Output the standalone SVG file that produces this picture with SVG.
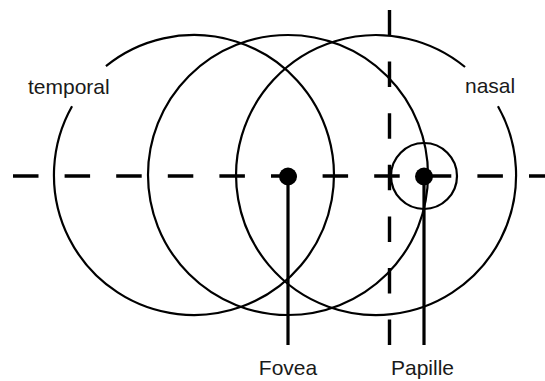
<svg xmlns="http://www.w3.org/2000/svg" width="545" height="381" viewBox="0 0 545 381">
<style>
.c{fill:none;stroke:#000;stroke-width:2.2}
.d{fill:none;stroke:#000;stroke-width:3.4;stroke-dasharray:25.5 26.1}
.l{fill:none;stroke:#000;stroke-width:3.2}
.t{font-family:"Liberation Sans",Arial,sans-serif;font-size:21px;fill:#1a1a1a}
</style>
<rect width="545" height="381" fill="#fff"/>
<g id="circle-temporal"><path class="c" d="M105.94,66.17 A140,140 0 1 1 72.05,106.2"/></g>
<g id="circle-fovea"><circle class="c" cx="288" cy="175" r="140"/></g>
<g id="circle-nasal"><path class="c" d="M497.95,106.2 A140,140 0 1 1 465.05,67"/></g>
<g id="connectors">
<line class="d" x1="13" y1="176" x2="545" y2="176"/>
<line class="d" x1="389.5" y1="10" x2="389.5" y2="346"/>
<line class="l" x1="288" y1="176" x2="288" y2="345"/>
<line class="l" x1="424" y1="176" x2="424" y2="345"/>
</g>
<g id="papille-circle"><circle class="c" cx="424" cy="176" r="33"/></g>
<g id="fovea-dot"><circle cx="288" cy="176.5" r="9" fill="#000"/></g>
<g id="papille-dot"><circle cx="424" cy="176.5" r="9" fill="#000"/></g>
<g id="label-temporal"><text class="t" x="28" y="93.5">temporal</text></g>
<g id="label-nasal"><text class="t" x="465" y="93">nasal</text></g>
<g id="label-fovea"><text class="t" x="288" y="375" text-anchor="middle">Fovea</text></g>
<g id="label-papille"><text class="t" x="422.5" y="375" text-anchor="middle">Papille</text></g>
</svg>
